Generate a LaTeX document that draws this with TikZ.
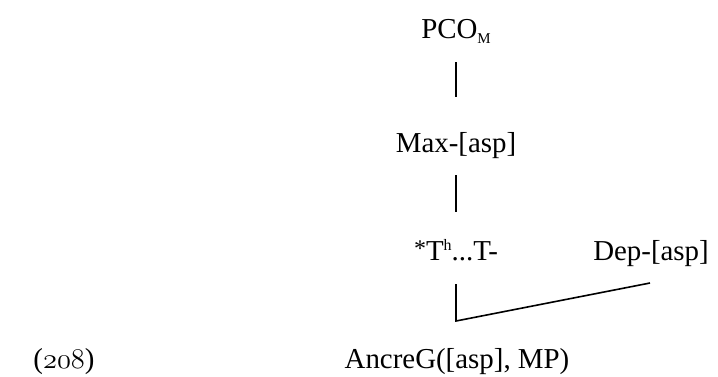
\documentclass[tikz,border=0pt]{standalone}
\usepackage{fontspec}
\usepackage{graphicx}
\setmainfont{Liberation Serif}
\usetikzlibrary{calc}
\begin{document}
\begin{tikzpicture}[x=1bp,y=-1bp,
  lbl/.style={font=\fontsize{29}{33}\selectfont, inner sep=0pt, anchor=base},
  conn/.style={line width=1.6bp, line join=miter}]
\useasboundingbox (0,0) rectangle (718,376);
\node[lbl] (pco) at (456,38) {PCO\raisebox{-5bp}{\fontsize{15}{15}\selectfont M}};
\node[lbl] (max) at (456,152) {Max-[asp]};
\node[lbl] (th) at (456,260) {\raisebox{4bp}{\fontsize{24}{24}\selectfont *}T\raisebox{10bp}{\fontsize{16}{16}\selectfont h}...T-};
\node[lbl] (dep) at (651,260) {Dep-[asp]};
\node[lbl] (anc) at (457,368) {AncreG([asp], MP)};
\node[lbl] (num) at (64,368) {(\scalebox{1.15}{\(\mathnormal{208}\)})};
\coordinate (corner) at ($(th.base)+(0,61)$);
\draw[conn] ($(pco.base)+(0,24)$) -- ($(max.base)+(0,-55)$);
\draw[conn] ($(max.base)+(0,23)$) -- ($(th.base)+(0,-48)$);
\draw[conn] ($(th.base)+(0,24)$) -- (corner) -- ($(dep.base)+(-1,23)$);
\end{tikzpicture}
\end{document}
